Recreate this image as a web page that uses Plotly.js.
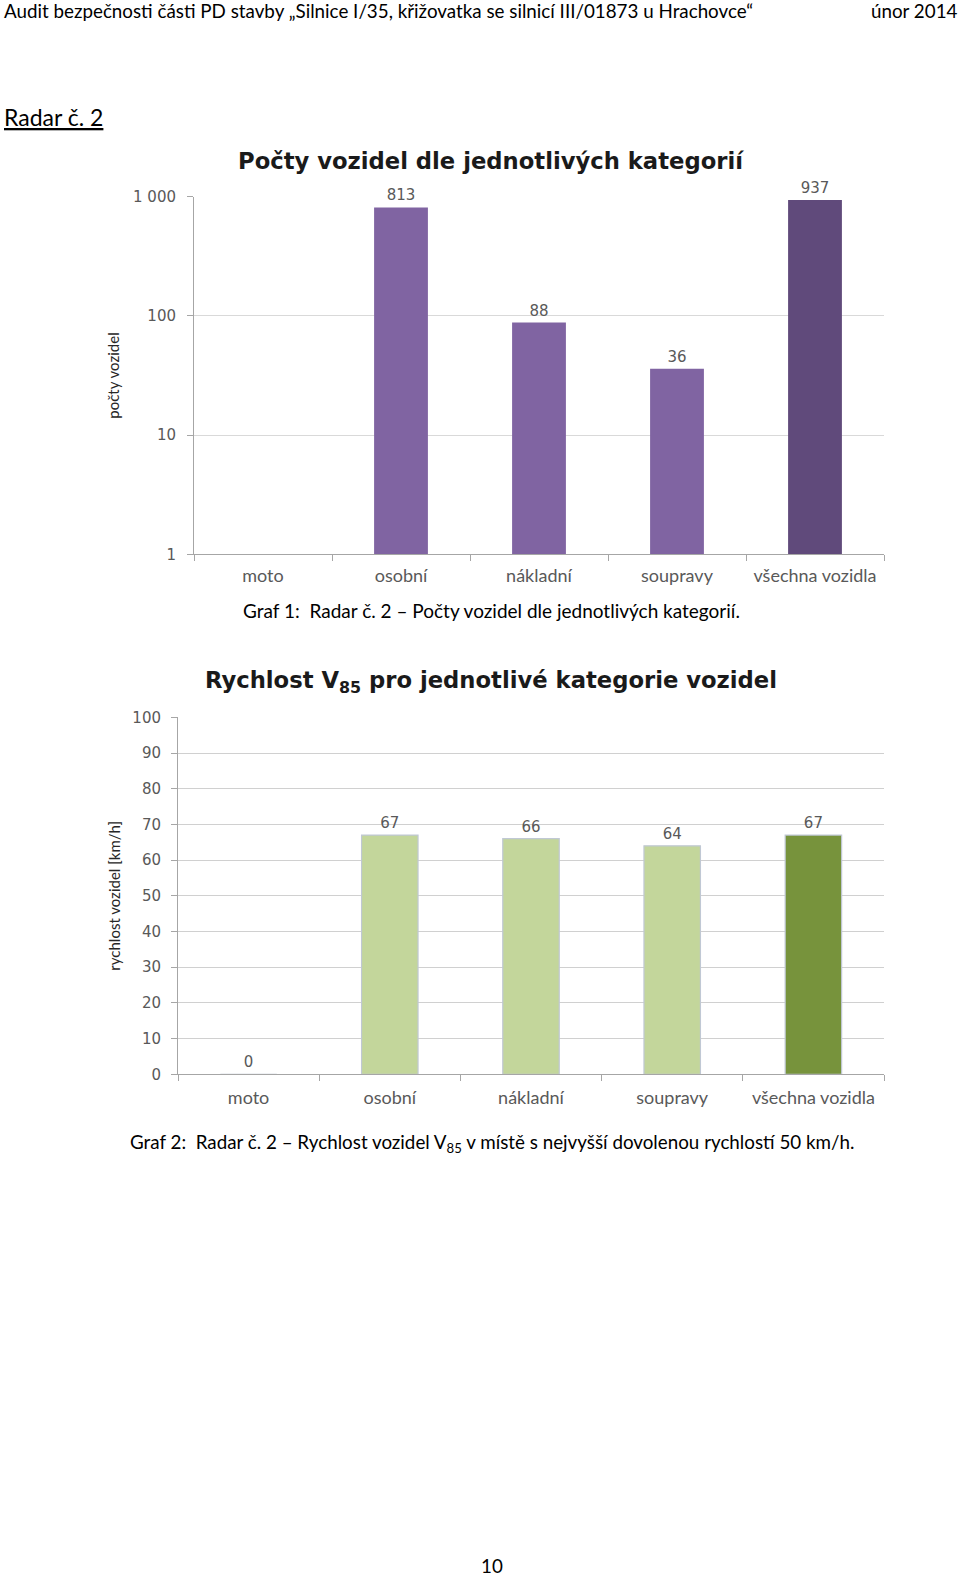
<!DOCTYPE html>
<html>
<head>
<meta charset="utf-8">
<script src="https://cdn.plot.ly/plotly-3.0.1.min.js"></script>
<style>
html,body{margin:0;padding:0;background:#fff;}
#chart{width:960px;height:1576px;}
</style>
</head>
<body>
<div id="chart"></div>
<script>
// ---- data ----
const categories = ["moto", "osobní", "nákladní", "soupravy", "všechna vozidla"];
const vehicleCounts = [0, 813, 88, 36, 937];
const speedV85 = [0, 67, 66, 64, 67];
const countTickVals = [1, 10, 100, 1000];
const countTickText = ["1", "10", "100", "1 000"];

const headerText = "Audit bezpečnosti části PD stavby „Silnice I/35, křižovatka se silnicí III/01873 u Hrachovce“";
const headerDate = "únor 2014";
const sectionTitle = "Radar č. 2";
const chart1Title = "Počty vozidel dle jednotlivých kategorií";
const chart2Title = "Rychlost V<sub>85</sub> pro jednotlivé kategorie vozidel";
const chart1YTitle = "počty vozidel";
const chart2YTitle = "rychlost vozidel [km/h]";
const caption1 = "Graf 1:  Radar č. 2 – Počty vozidel dle jednotlivých kategorií.";
const caption2 = "Graf 2:  Radar č. 2 – Rychlost vozidel V<sub>85</sub> v místě s nejvyšší dovolenou rychlostí 50 km/h.";
const pageNumber = "10";

// ---- styles ----
const W = 960, H = 1576;
const px = x => x / W;
const py = y => 1 - y / H;
const docFont = "Lato, 'Open Sans', sans-serif";
const numFont = "'DejaVu Sans', 'Open Sans', sans-serif";
const grey = "#595959";
const purple = "#8064a2", purpleDark = "#604a7b";
const greenLight = "#c3d69b", greenDark = "#77933c";

const countColors = categories.map((c, i) => i === categories.length - 1 ? purpleDark : purple);
const speedColors = categories.map((c, i) => i === categories.length - 1 ? greenDark : greenLight);

const traces = [
  {
    type: "bar", x: categories, y: vehicleCounts, xaxis: "x", yaxis: "y",
    width: 0.39,
    marker: {color: countColors, line: {width: 0}},
    text: vehicleCounts.map(v => v > 0 ? String(v) : ""),
    textposition: "outside", cliponaxis: false,
    textfont: {family: numFont, size: 15, color: grey},
    hoverinfo: "skip", showlegend: false
  },
  {
    type: "bar", x: categories, y: speedV85, xaxis: "x2", yaxis: "y2",
    width: 0.4,
    marker: {color: speedColors, line: {width: 1.2, color: "#c0c8d4"}},
    text: speedV85.map(v => String(v)),
    textposition: "outside", cliponaxis: false,
    textfont: {family: numFont, size: 15, color: grey},
    hoverinfo: "skip", showlegend: false
  }
];

const axisCommon = {
  showline: true, linecolor: "#a6a6a6", linewidth: 1,
  tickfont: {family: numFont, size: 15, color: grey},
  fixedrange: true
};

const xCommon = {
  type: "category", ticks: "outside", tickson: "boundaries",
  ticklen: 6, tickcolor: "#a6a6a6", showgrid: false,
  tickfont: {family: docFont, size: 18, color: grey}
};

const layout = {
  width: W, height: H,
  margin: {l: 0, r: 0, t: 0, b: 0},
  paper_bgcolor: "#fff", plot_bgcolor: "#fff",
  xaxis: Object.assign({}, axisCommon, xCommon, {
    domain: [px(194), px(884)], anchor: "y", ticklabelstandoff: 5
  }),
  yaxis: Object.assign({}, axisCommon, {
    domain: [py(554.3), py(196.7)], anchor: "x",
    type: "log", range: [0, 3],
    tickvals: countTickVals, ticktext: countTickText,
    ticks: "outside", ticklen: 6, tickcolor: "#a6a6a6",
    ticklabelstandoff: 8,
    showgrid: true, gridcolor: "#d9d9d9", gridwidth: 1,
    title: {text: chart1YTitle, font: {family: docFont, size: 15, color: "#262626"}, standoff: 9}
  }),
  xaxis2: Object.assign({}, axisCommon, xCommon, {
    domain: [px(178), px(884)], anchor: "y2", ticklabelstandoff: 7
  }),
  yaxis2: Object.assign({}, axisCommon, {
    domain: [py(1074.3), py(717.3)], anchor: "x2",
    range: [0, 100], dtick: 10, tick0: 0,
    ticks: "outside", ticklen: 6, tickcolor: "#a6a6a6",
    ticklabelstandoff: 7,
    showgrid: true, gridcolor: "#d0d0d0", gridwidth: 1,
    zeroline: false,
    title: {text: chart2YTitle, font: {family: docFont, size: 15, color: "#262626"}, standoff: 8}
  }),
  annotations: [
    {text: headerText, x: px(2), y: py(11), xref: "paper", yref: "paper", xanchor: "left", yanchor: "middle",
     showarrow: false, font: {family: docFont, size: 18.8, color: "#000"}},
    {text: headerDate, x: px(959.5), y: py(11), xref: "paper", yref: "paper", xanchor: "right", yanchor: "middle",
     showarrow: false, font: {family: docFont, size: 18.8, color: "#000"}},
    {text: "<u>" + sectionTitle + "</u>", x: px(2), y: py(117), xref: "paper", yref: "paper", xanchor: "left", yanchor: "middle",
     showarrow: false, font: {family: docFont, size: 23, color: "#000"}},
    {text: "<b>" + chart1Title + "</b>", x: px(491), y: py(161), xref: "paper", yref: "paper", xanchor: "center", yanchor: "middle",
     showarrow: false, font: {family: numFont, size: 22.7, color: "#1a1a1a"}},
    {text: "<b>" + chart2Title + "</b>", x: px(491), y: py(682), xref: "paper", yref: "paper", xanchor: "center", yanchor: "middle",
     showarrow: false, font: {family: numFont, size: 22.7, color: "#1a1a1a"}},
    {text: caption1, x: px(491), y: py(610), xref: "paper", yref: "paper", xanchor: "center", yanchor: "middle",
     showarrow: false, font: {family: docFont, size: 19, color: "#000"}},
    {text: caption2, x: px(492), y: py(1143), xref: "paper", yref: "paper", xanchor: "center", yanchor: "middle",
     showarrow: false, font: {family: docFont, size: 18.8, color: "#000"}},
    {text: pageNumber, x: px(492), y: py(1565), xref: "paper", yref: "paper", xanchor: "center", yanchor: "middle",
     showarrow: false, font: {family: docFont, size: 18.8, color: "#000"}}
  ]
};

Plotly.newPlot("chart", traces, layout, {staticPlot: true, displayModeBar: false});
</script>
</body>
</html>
